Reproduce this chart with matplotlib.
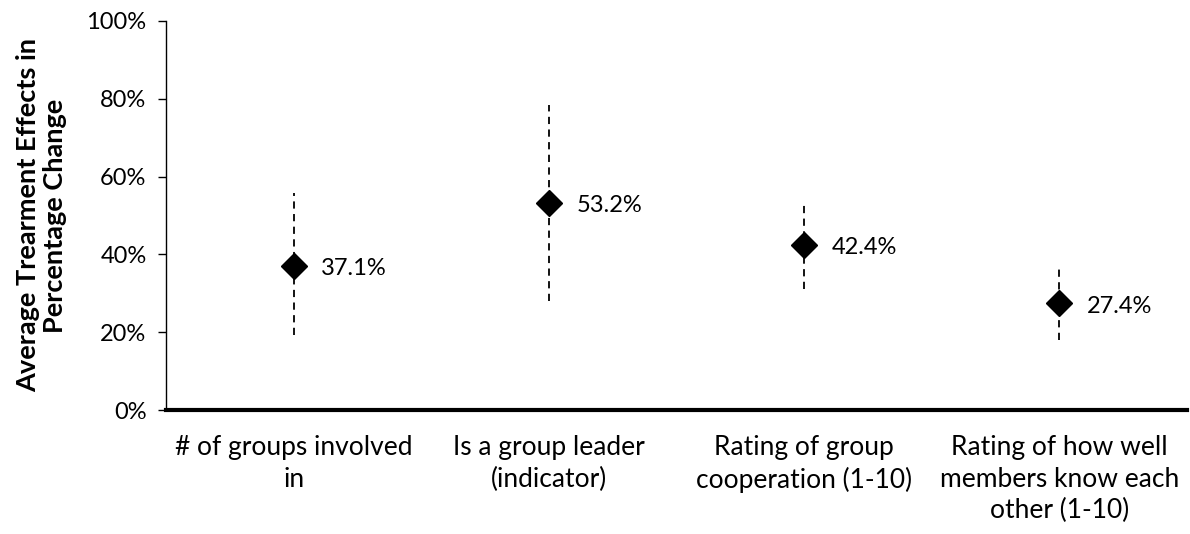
import matplotlib
matplotlib.use("Agg")
import matplotlib.pyplot as plt
from matplotlib.ticker import FuncFormatter

plt.rcParams['font.family'] = ['Lato', 'DejaVu Sans']

# data (percent)
categories = ["# of groups involved\nin",
              "Is a group leader\n(indicator)",
              "Rating of group\ncooperation (1-10)",
              "Rating of how well\nmembers know each\nother (1-10)"]
effects = [37.1, 53.2, 42.4, 27.4]
upper = [55.7, 78.4, 53.7, 36.9]
lower = [19.2, 28.0, 31.2, 17.9]
effect_labels = ["37.1%", "53.2%", "42.4%", "27.4%"]

fig = plt.figure(figsize=(11.9, 5.34), dpi=100)
ax = fig.add_axes([0.1395, 0.232, 0.858, 0.729])

x = list(range(len(categories)))
for xi, lo, hi in zip(x, lower, upper):
    ax.plot([xi, xi], [lo, hi], color='black', lw=1.3, ls=(0, (4, 3)), zorder=2)
ax.plot(x, effects, ls='none', marker='D', markersize=13,
        color='black', zorder=3)

for xi, v, lab in zip(x, effects, effect_labels):
    ax.annotate(lab, (xi, v), xytext=(20, -2), textcoords='offset points',
                ha='left', va='center', fontsize=17)

ax.set_xlim(-0.5, len(categories) - 0.5)
ax.set_ylim(0, 100)
ax.set_yticks([0, 20, 40, 60, 80, 100])
ax.yaxis.set_major_formatter(FuncFormatter(lambda v, p: f"{v:.0f}%"))
ax.set_xticks(x)
ax.set_xticklabels(categories, fontsize=19, linespacing=1.33)
ax.tick_params(axis='x', length=0, pad=18)
ax.tick_params(axis='y', direction='out', length=6, width=1, labelsize=17, pad=8)

for s in ['top', 'right']:
    ax.spines[s].set_visible(False)
ax.spines['left'].set_linewidth(1)
ax.spines['bottom'].set_linewidth(3)
ax.spines['bottom'].set_zorder(4)

ax.set_ylabel("Average Trearment Effects in\nPercentage Change",
              fontsize=19.5, fontweight='bold', labelpad=14, linespacing=1.15)

fig.savefig("out.png", dpi=100)
